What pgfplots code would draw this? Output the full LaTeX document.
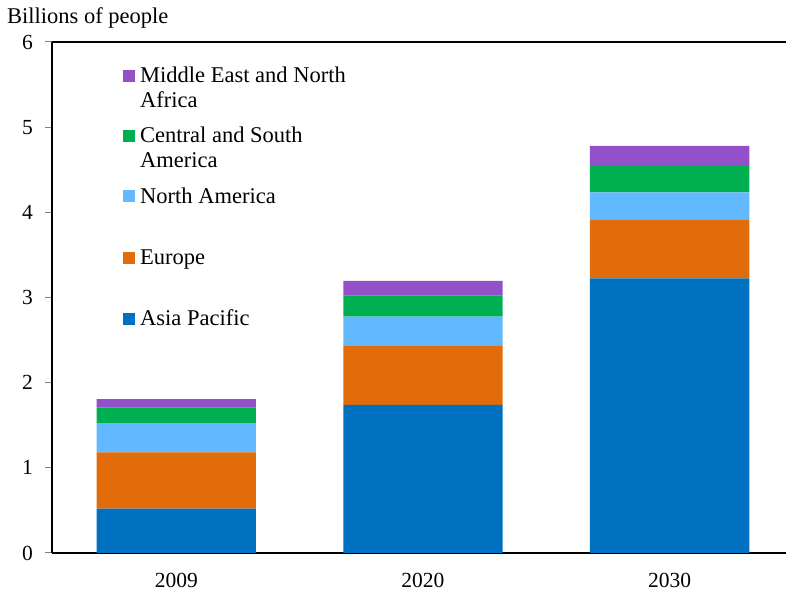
\documentclass[border=0pt]{standalone}
\usepackage{pgfplots}
\pgfplotsset{compat=1.18}
\usepackage{fontspec}
\setmainfont{Liberation Serif}
\definecolor{cAsia}{HTML}{0070C0}
\definecolor{cEur}{HTML}{E36C0A}
\definecolor{cNA}{HTML}{63B9FF}
\definecolor{cCSA}{HTML}{00AF50}
\definecolor{cMENA}{HTML}{9450C8}
\begin{document}
\fontsize{22.5}{25}\selectfont
\begin{tikzpicture}[font=\fontsize{22.5}{25}\selectfont]
\begin{axis}[
  scale only axis, width=734pt, height=511pt,
  xmin=-0.504, xmax=2.472, ymin=0, ymax=6,
  ybar stacked, bar width=0.646,
  xtick={0,1,2}, xticklabels={2009,2020,2030},
  ytick={0,1,2,3,4,5,6},
  axis lines=left, axis line style={-, line width=1.2pt},
  xtick style={draw=none},
  ytick style={line width=1pt},
  tick align=outside, major tick length=7pt,
  /pgf/number format/assume math mode=true,
  tick label style={font=\fontsize{21.5}{25}\selectfont},
  yticklabel style={xshift=-4.5pt},
  xticklabel style={yshift=-6pt},
  clip=false,
]
\addplot[fill=cAsia, draw=none] coordinates {(0,0.52) (1,1.738) (2,3.225)};
\addplot[fill=cEur, draw=none] coordinates {(0,0.662) (1,0.701) (2,0.685)};
\addplot[fill=cNA, draw=none] coordinates {(0,0.344) (1,0.335) (2,0.325)};
\addplot[fill=cCSA, draw=none] coordinates {(0,0.18) (1,0.247) (2,0.309)};
\addplot[fill=cMENA, draw=none] coordinates {(0,0.102) (1,0.173) (2,0.235)};
\draw[line width=1.2pt] (rel axis cs:0,1) -- (rel axis cs:1,1);
% legend
\fill[cMENA] ([shift={(71pt,-28pt)}]rel axis cs:0,1) rectangle ++(12pt,-12pt);
\node[anchor=base west, inner sep=0pt] at ([shift={(88pt,-40.7pt)}]rel axis cs:0,1) {Middle East and North};
\node[anchor=base west, inner sep=0pt] at ([shift={(88pt,-65.7pt)}]rel axis cs:0,1) {Africa};
\fill[cCSA] ([shift={(71pt,-88pt)}]rel axis cs:0,1) rectangle ++(12pt,-12pt);
\node[anchor=base west, inner sep=0pt] at ([shift={(88pt,-100.7pt)}]rel axis cs:0,1) {Central and South};
\node[anchor=base west, inner sep=0pt] at ([shift={(88pt,-125.7pt)}]rel axis cs:0,1) {America};
\fill[cNA] ([shift={(71pt,-148.5pt)}]rel axis cs:0,1) rectangle ++(12pt,-12pt);
\node[anchor=base west, inner sep=0pt] at ([shift={(88pt,-161.2pt)}]rel axis cs:0,1) {North America};
\fill[cEur] ([shift={(71pt,-210pt)}]rel axis cs:0,1) rectangle ++(12pt,-12pt);
\node[anchor=base west, inner sep=0pt] at ([shift={(88pt,-222.7pt)}]rel axis cs:0,1) {Europe};
\fill[cAsia] ([shift={(71pt,-271pt)}]rel axis cs:0,1) rectangle ++(12pt,-12pt);
\node[anchor=base west, inner sep=0pt] at ([shift={(88pt,-283.7pt)}]rel axis cs:0,1) {Asia Pacific};
% y label
\node[anchor=base west, inner sep=0pt] at ([shift={(-45pt,18pt)}]rel axis cs:0,1) {Billions of people};
% bounding box
\path ([shift={(-52pt,-38pt)}]rel axis cs:0,0) rectangle ([shift={(1pt,42pt)}]rel axis cs:1,1);
\end{axis}
\end{tikzpicture}
\end{document}
